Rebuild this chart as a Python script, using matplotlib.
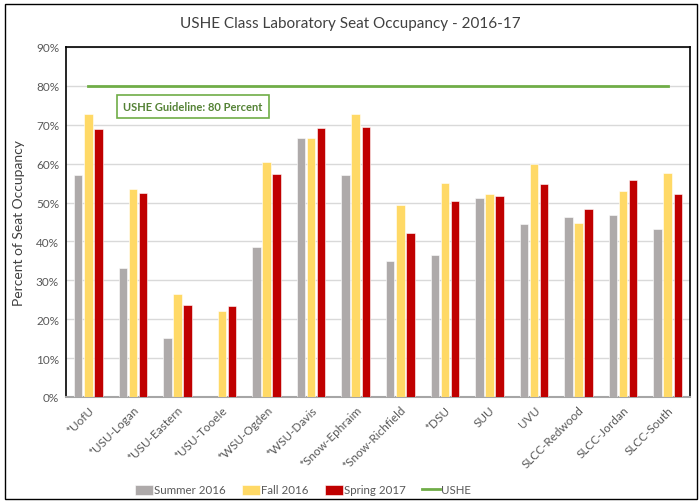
import numpy as np
import matplotlib
matplotlib.use("Agg")
import matplotlib.pyplot as plt
from matplotlib.patches import Rectangle

plt.rcParams['font.family'] = ['Lato', 'DejaVu Sans']

campuses = ['*UofU', '*USU-Logan', '*USU-Eastern', '*USU-Tooele', '*WSU-Ogden',
            '*WSU-Davis', '*Snow-Ephraim', '*Snow-Richfield', '*DSU', 'SUU',
            'UVU', 'SLCC-Redwood', 'SLCC-Jordan', 'SLCC-South']
summer_2016 = [57.0, 33.2, 15.3, np.nan, 38.6, 66.6, 57.0, 35.1, 36.4, 51.2,
               44.6, 46.4, 46.9, 43.3]
fall_2016 = [72.8, 53.4, 26.6, 22.0, 60.4, 66.6, 72.8, 49.4, 55.1, 52.3,
             59.8, 44.8, 53.0, 57.7]
spring_2017 = [69.0, 52.5, 23.6, 23.3, 57.3, 69.2, 69.4, 42.2, 50.5, 51.8,
               54.7, 48.4, 55.7, 52.3]
ushe_guideline = 80

grey = '#AEAAAA'
yellow = '#FFD966'
red = '#C00000'
green = '#70AD47'
text_col = '#595959'

fig = plt.figure(figsize=(7.0, 5.02), dpi=100)
ax = fig.add_axes([66 / 700, 1 - 398 / 502, 624 / 700, 350 / 502])

x = np.arange(len(campuses))
w = 0.19
off = 0.225
b1 = ax.bar(x - off, summer_2016, w, color=grey, edgecolor='white', linewidth=0.4,
            label='Summer 2016', zorder=3)
b2 = ax.bar(x, fall_2016, w, color=yellow, edgecolor='white', linewidth=0.4,
            label='Fall 2016', zorder=3)
b3 = ax.bar(x + off, spring_2017, w, color=red, edgecolor='white', linewidth=0.4,
            label='Spring 2017', zorder=3)
ln, = ax.plot(x, [ushe_guideline] * len(x), color=green, lw=2, label='USHE', zorder=4)

ax.set_xlim(-0.5, len(campuses) - 0.5)
ax.set_ylim(0, 90)
ax.set_yticks(np.arange(0, 91, 10))
ax.set_yticklabels([f'{v}%' for v in range(0, 91, 10)], fontsize=8.5, color=text_col)
ax.set_xticks(x)
ax.set_xticklabels(campuses, rotation=45, ha='right', rotation_mode='anchor',
                   fontsize=8.5, color=text_col)
ax.tick_params(length=0, pad=5)
ax.yaxis.grid(True, color='#D9D9D9', lw=1, zorder=0)
ax.set_axisbelow(True)

for s in ['left', 'top', 'right']:
    ax.spines[s].set_color('black')
    ax.spines[s].set_linewidth(1.2)
ax.spines['bottom'].set_color('#A6A6A6')
ax.spines['bottom'].set_linewidth(1.5)

ax.set_ylabel('Percent of Seat Occupancy', fontsize=10, color='#404040', labelpad=8)
fig.text(0.5, 1 - 24 / 502, 'USHE Class Laboratory Seat Occupancy - 2016-17',
         ha='center', va='center', fontsize=11, color='#404040')

ax.text(0.0915, 1 - (106 - 48) / 350 - 0.005, 'USHE Guideline: 80 Percent',
        transform=ax.transAxes, fontsize=8, fontweight='bold', color='#548235',
        ha='left', va='center', zorder=5,
        bbox=dict(boxstyle='square,pad=0.55', fc='white', ec=green, lw=1.2))

leg = fig.legend([b1, b2, b3, ln], ['Summer 2016', 'Fall 2016', 'Spring 2017', 'USHE'],
                 loc='center', bbox_to_anchor=(0.433, 1 - 491 / 502), ncol=4,
                 frameon=False, fontsize=8.3, handlelength=1.55, handleheight=0.95,
                 columnspacing=1.4, handletextpad=0.12)
for t in leg.get_texts():
    t.set_color(text_col)

fig.patches.append(Rectangle((5 / 700, 2 / 502), 692 / 700, 495 / 502,
                             transform=fig.transFigure, fill=False,
                             ec='black', lw=1))

fig.savefig('out.png', dpi=100)
